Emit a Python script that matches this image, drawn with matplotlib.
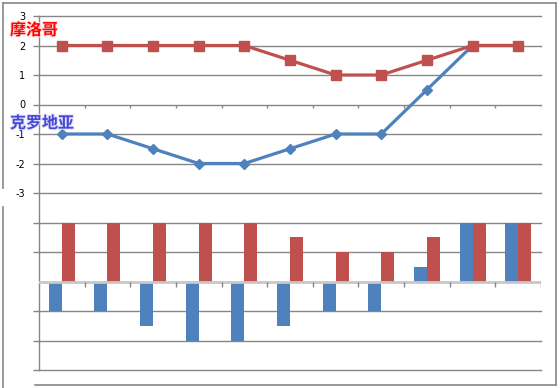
import matplotlib
matplotlib.use("Agg")
import matplotlib.pyplot as plt
import matplotlib.patheffects as pe
from matplotlib.lines import Line2D
import numpy as np

# data
croatia = [-1, -1, -1.5, -2, -2, -1.5, -1, -1, 0.5, 2, 2]
morocco = [2, 2, 2, 2, 2, 1.5, 1, 1, 1.5, 2, 2]
line_ticks = [3, 2, 1, 0, -1, -2, -3]
bar_base = -6

BLUE = "#4F81BD"
RED = "#C0504D"
GRID = "#868686"

W, H = 560, 388
fig = plt.figure(figsize=(W / 100, H / 100), dpi=100)

def fx(px):
    return px / W

def fy(py):
    return 1 - py / H

ax = fig.add_axes([fx(39), fy(370), fx(541) - fx(39), fy(16) - fy(370)])
n = len(croatia)
x = np.arange(n) + 0.5
ax.set_xlim(0, n)
ax.set_ylim(-9, 3)

# grid / ticks
yt = [v for v in range(-9, 4) if v != bar_base]
ax.set_yticks(yt)
ax.set_yticklabels([str(v) if v in line_ticks else "" for v in yt])
ax.tick_params(axis="y", length=4, width=1, color=GRID, pad=6, labelsize=7)
ax.set_xticks([])
for v in yt:
    ax.axhline(v, color=GRID, lw=1, zorder=1, clip_on=False)
for s in ["top", "right", "bottom"]:
    ax.spines[s].set_visible(False)
ax.spines["left"].set_color(GRID)
ax.spines["left"].set_linewidth(1)

# category ticks
bounds = np.arange(1, n + 1)
ax.vlines(bounds, -0.13, 0, color=GRID, lw=1, zorder=2)
ax.vlines(bounds, bar_base - 0.17, bar_base, color=GRID, lw=1, zorder=4)

# bars
bw = 0.285
ax.bar(x - bw / 2, croatia, width=bw, bottom=bar_base, color=BLUE, zorder=3)
ax.bar(x + bw / 2, morocco, width=bw, bottom=bar_base, color=RED, zorder=3)
ax.axhline(bar_base, color="#C8C8C8", lw=2, zorder=3.5)

# lines
ax.plot(x, croatia, color=BLUE, lw=2.3, marker="D", ms=5.5, zorder=5)
ax.plot(x, morocco, color=RED, lw=2.3, marker="s", ms=7.5, zorder=6)

# series labels
fig.text(fx(10), fy(30), "摩洛哥", color="#FF0000", fontsize=11.5, fontweight="bold",
         family=["Noto Sans CJK SC", "DejaVu Sans"], va="center", ha="left",
         path_effects=[pe.withStroke(linewidth=1.5, foreground="#FFE0E0")])
fig.text(fx(10), fy(123), "克罗地亚", color="#4646D8", fontsize=11.5, fontweight="bold",
         family=["Noto Sans CJK SC", "DejaVu Sans"], va="center", ha="left",
         path_effects=[pe.withStroke(linewidth=1.5, foreground="#E0E0F8")])

# outer frame
def seg(x0, y0, x1, y1):
    fig.add_artist(Line2D([fx(x0), fx(x1)], [fy(y0), fy(y1)], color=GRID, lw=1.2,
                          transform=fig.transFigure))

seg(2.7, 3, 556, 3)
seg(556, 3, 556, 385)
seg(35, 385, 556, 385)
seg(2.7, 3, 2.7, 188)
seg(2.7, 207, 2.7, 388)

fig.savefig("out.png", dpi=100)
